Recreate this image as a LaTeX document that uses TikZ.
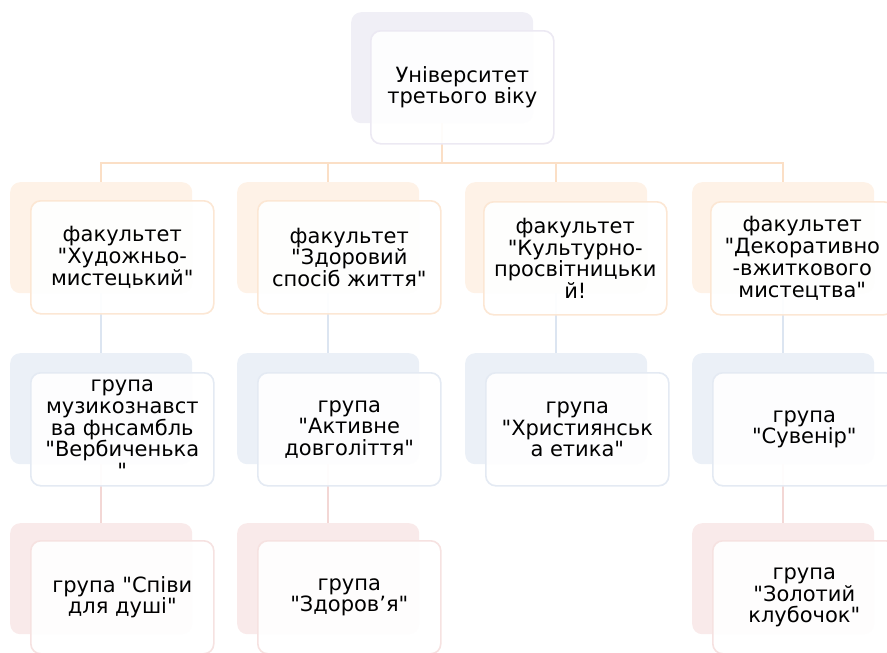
\documentclass[tikz,border=0pt]{standalone}
\usepackage{fontspec}
\setmainfont{DejaVu Sans}[Ligatures=TeXOff]
\definecolor{lilac}{HTML}{F0EFF6}
\definecolor{peach}{HTML}{FEF2E7}
\definecolor{pale}{HTML}{EBF0F7}
\definecolor{rose}{HTML}{F9EAEA}
\definecolor{lilacline}{HTML}{ECE9F3}
\definecolor{peachline}{HTML}{FCE7D4}
\definecolor{paleline}{HTML}{E4EAF3}
\definecolor{roseline}{HTML}{F6E2E1}
\definecolor{bus}{HTML}{FBDFC6}
\definecolor{stem}{HTML}{DCE5F1}
\definecolor{twig}{HTML}{F3D7D5}
\begin{document}
\begin{tikzpicture}[x=1pt,y=-1pt,
    back/.style={anchor=north west,minimum width=182pt,minimum height=111pt,
      rounded corners=10pt,inner sep=0pt},
    front/.style={anchor=north west,minimum width=183pt,minimum height=113pt,
      rounded corners=10pt,inner sep=0pt,align=center,fill=white,fill opacity=0.93,
      text opacity=1,line width=1.6pt,text=black,
      font=\fontsize{21}{21.7}\selectfont},
    wire/.style={line width=2pt}]
  \useasboundingbox (0,0) rectangle (887,653);
  \draw
    (351,12) node[back,fill=lilac] (b0){}
    (10,182) node[back,fill=peach] (b1){}
    (237,182) node[back,fill=peach] (b2){}
    (465,182) node[back,fill=peach] (b3){}
    (692,182) node[back,fill=peach] (b4){}
    (10,353) node[back,fill=pale] (b5){}
    (237,353) node[back,fill=pale] (b6){}
    (465,353) node[back,fill=pale] (b7){}
    (692,353) node[back,fill=pale] (b8){}
    (10,523) node[back,fill=rose] (b9){}
    (237,523) node[back,fill=rose] (b10){}
    (692,523) node[back,fill=rose] (b11){};
  \coordinate (bus) at (0,163);
  \begin{scope}[wire]
    \draw[bus] (b0.south) -- (b0.south |- bus) -| (b1.north);
    \draw[bus] (b0.south) -- (b0.south |- bus) -| (b2.north);
    \draw[bus] (b0.south) -- (b0.south |- bus) -| (b3.north);
    \draw[bus] (b0.south) -- (b0.south |- bus) -| (b4.north);
    \draw[stem] (b1.south) to (b5.north);
    \draw[stem] (b2.south) to (b6.north);
    \draw[stem] (b3.south) to (b7.north);
    \draw[stem] (b4.south) to (b8.north);
    \draw[twig] (b5.south) to (b9.north);
    \draw[twig] (b6.south) to (b10.north);
    \draw[twig] (b8.south) to (b11.north);
  \end{scope}
  \draw
    ([shift={(19,18)}]b0.north west) node[front,draw=lilacline] (0){Університет\\третього віку}
    ([shift={(20,18)}]b1.north west) node[front,draw=peachline] (1){факультет\\"Художньо-\\мистецький"}
    ([shift={(20,18)}]b2.north west) node[front,draw=peachline] (2){факультет\\"Здоровий\\спосіб життя"}
    ([shift={(18,19)}]b3.north west) node[front,draw=peachline] (3){факультет\\"Культурно-\\просвітницьки\\й!}
    ([shift={(18,19)}]b4.north west) node[front,draw=peachline] (4){факультет\\"Декоративно\\-вжиткового\\мистецтва"}
    ([shift={(20,19)}]b5.north west) node[front,draw=paleline] (5){група\\музикознавст\\ва фнсамбль\\"Вербиченька\\"}
    ([shift={(20,19)}]b6.north west) node[front,draw=paleline] (6){група\\"Активне\\довголіття"}
    ([shift={(20,19)}]b7.north west) node[front,draw=paleline] (7){група\\"Християнськ\\а етика"}
    ([shift={(20,19)}]b8.north west) node[front,draw=paleline] (8){група\\"Сувенір"}
    ([shift={(20,17)}]b9.north west) node[front,draw=roseline] (9){група "Співи\\для душі"}
    ([shift={(20,17)}]b10.north west) node[front,draw=roseline] (10){група\\"Здоров’я"}
    ([shift={(20,17)}]b11.north west) node[front,draw=roseline] (11){група\\"Золотий\\клубочок"};
\end{tikzpicture}
\end{document}
